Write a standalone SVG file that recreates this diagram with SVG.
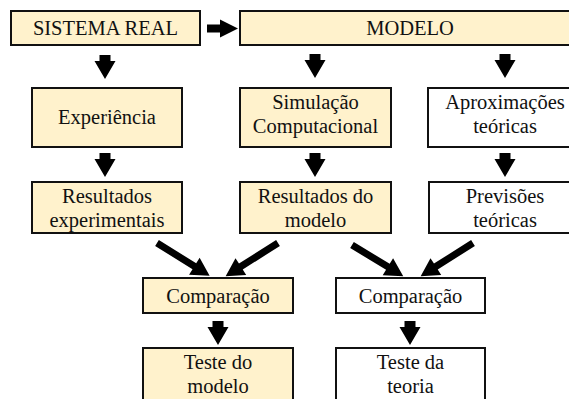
<svg xmlns="http://www.w3.org/2000/svg" width="569" height="399" viewBox="0 0 569 399">
<defs>
<style>
.box{stroke:#111;stroke-width:2}
.y{fill:#FFF2CC}
.w{fill:#FFFFFF}
.t text{font-family:'Liberation Serif','DejaVu Serif',serif;font-size:20.5px;fill:#111;text-anchor:middle}
.arr{fill:#000}
</style>
<path id="darr" d="M-5.5,0 H5.5 V6 H10.5 L0,24 L-10.5,6 H-5.5 Z"/>
</defs>
<rect width="569" height="399" fill="#fff"/>
<g class="t" font-family="Liberation Serif, serif">
<g id="sistema"><rect class="box y" x="11" y="11" width="189" height="34"/><text x="105.5" y="35">SISTEMA REAL</text></g>
<g id="modelo"><rect class="box y" x="240" y="11" width="342" height="34"/><text x="410" y="35">MODELO</text></g>
<g id="experiencia"><rect class="box y" x="32" y="88" width="150" height="59"/><text x="107" y="124">Experiência</text></g>
<g id="simulacao"><rect class="box y" x="240" y="88" width="151" height="59"/><text x="315.5" y="109">Simulação</text><text x="315.5" y="133">Computacional</text></g>
<g id="aproximacoes"><rect class="box w" x="428" y="88" width="154" height="59"/><text x="505" y="109">Aproximações</text><text x="505" y="133">teóricas</text></g>
<g id="resexp"><rect class="box y" x="32" y="182" width="150" height="51"/><text x="107" y="203">Resultados</text><text x="107" y="227">experimentais</text></g>
<g id="resmod"><rect class="box y" x="240" y="182" width="151" height="51"/><text x="315.5" y="203">Resultados do</text><text x="315.5" y="227">modelo</text></g>
<g id="previsoes"><rect class="box w" x="429" y="182" width="153" height="51"/><text x="505" y="203">Previsões</text><text x="505" y="227">teóricas</text></g>
<g id="comp1"><rect class="box y" x="143" y="278" width="150" height="35"/><text x="218" y="303">Comparação</text></g>
<g id="comp2"><rect class="box w" x="336" y="278" width="149" height="35"/><text x="410.5" y="303">Comparação</text></g>
<g id="teste1"><rect class="box y" x="143" y="348" width="150" height="62"/><text x="218" y="369">Teste do</text><text x="218" y="393">modelo</text></g>
<g id="teste2"><rect class="box w" x="336" y="348" width="149" height="62"/><text x="410.5" y="369">Teste da</text><text x="410.5" y="393">teoria</text></g>
</g>
<g id="connectors" class="arr">
<path d="M207,24.5 H220 V19.5 L238,28.5 L220,37.5 V32.5 H207 Z"/>
<use href="#darr" x="105" y="55"/>
<use href="#darr" x="315" y="54"/>
<use href="#darr" x="505" y="54"/>
<use href="#darr" x="105" y="153"/>
<use href="#darr" x="315" y="153"/>
<use href="#darr" x="505" y="153"/>
<use href="#darr" x="218" y="321"/>
<use href="#darr" x="410" y="321"/>
<path d="M0,-3.5 H44 V-10 L62,0 L44,10 V3.5 H0 Z" transform="translate(157,243) rotate(31.9)"/>
<path d="M0,-3.5 H44 V-10 L62,0 L44,10 V3.5 H0 Z" transform="translate(278,243) rotate(147.6)"/>
<path d="M0,-3.5 H42 V-10 L60,0 L42,10 V3.5 H0 Z" transform="translate(352,245) rotate(31.3)"/>
<path d="M0,-3.5 H44 V-10 L62,0 L44,10 V3.5 H0 Z" transform="translate(473,243) rotate(147.6)"/>
</g>
</svg>
